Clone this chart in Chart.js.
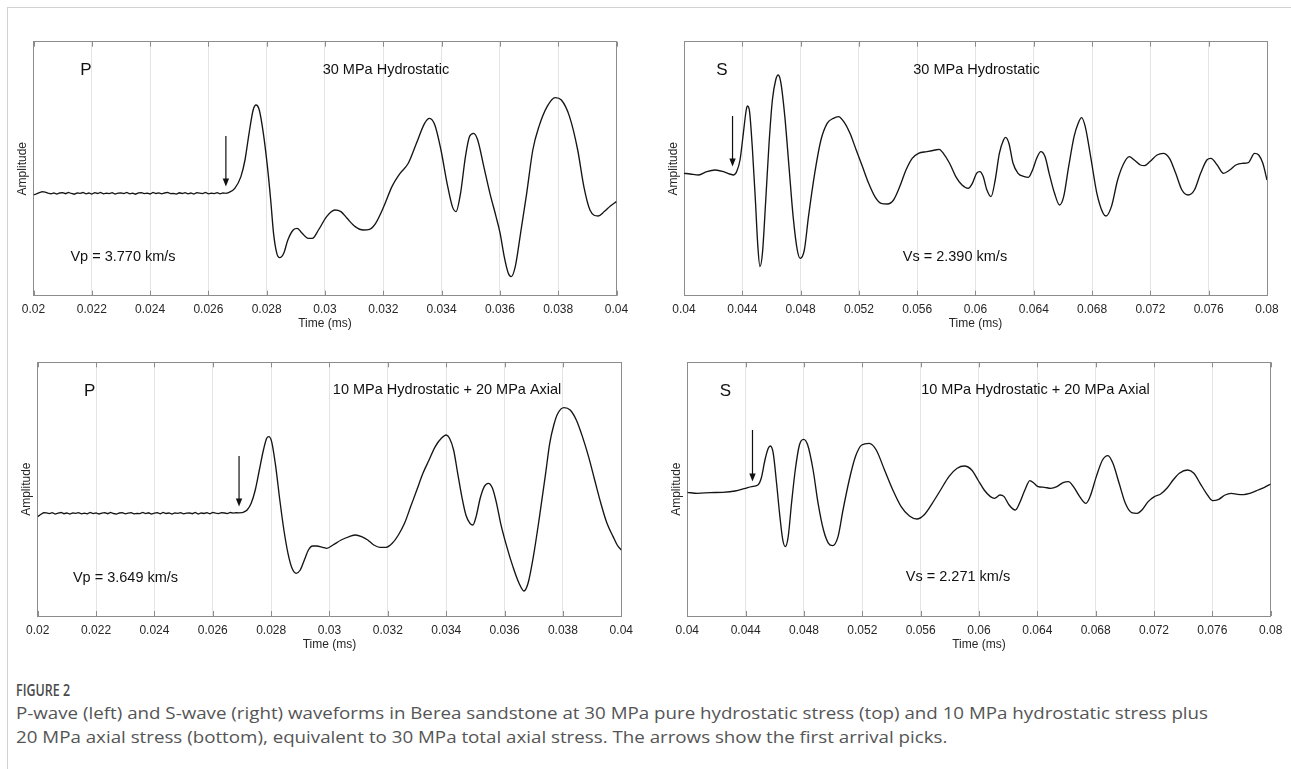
<!DOCTYPE html>
<html><head><meta charset="utf-8">
<script src="https://cdn.jsdelivr.net/npm/chart.js@4.4.0/dist/chart.umd.min.js"></script>
<style>
html,body{margin:0;padding:0;background:#fff;}
#wrap{position:relative;width:1291px;height:769px;overflow:hidden;background:#fff;}
#frame{position:absolute;left:7px;top:7px;width:1290px;height:770px;border-left:1px solid #d2d2d2;border-top:1px solid #d2d2d2;}
canvas{position:absolute;}
.cap{position:absolute;left:16px;font-family:"Open Sans",sans-serif;color:#555;white-space:nowrap;transform-origin:0 50%;line-height:20px;}
</style></head>
<body><div id="wrap"><div id="frame"></div>
<canvas id="c1"></canvas><canvas id="c2"></canvas><canvas id="c3"></canvas><canvas id="c4"></canvas>
<div class="cap" id="figlab" style="top:680px;font-size:17px;font-weight:600;color:#4a4a4a">FIGURE 2</div>
<div class="cap" id="cap1" style="top:703px;font-size:17px">P-wave (left) and S-wave (right) waveforms in Berea sandstone at 30 MPa pure hydrostatic stress (top) and 10 MPa hydrostatic stress plus</div>
<div class="cap" id="cap2" style="top:727px;font-size:17px">20 MPa axial stress (bottom), equivalent to 30 MPa total axial stress. The arrows show the first arrival picks.</div>
</div>
<script>
// ---------------- data (time in ms, amplitude in arbitrary units) ----------------
const P_TICKS = [0.02,0.022,0.024,0.026,0.028,0.03,0.032,0.034,0.036,0.038,0.04];
const S_TICKS = [0.04,0.044,0.048,0.052,0.056,0.06,0.064,0.068,0.072,0.076,0.08];

// P-wave, 30 MPa hydrostatic: pre-arrival noise
const P30_NOISE_TIME = [0.0200,0.0201,0.0202,0.0203,0.0204,0.0205,0.0206,0.0207,0.0208,0.0209,0.0210,0.0211,0.0212,0.0213,0.0214,0.0215,0.0216,0.0217,0.0218,0.0219,0.0220,0.0221,0.0222,0.0223,0.0224,0.0225,0.0226,0.0227,0.0228,0.0229,0.0230,0.0231,0.0232,0.0233,0.0234,0.0235,0.0236,0.0237,0.0238,0.0239,0.0240,0.0241,0.0242,0.0243,0.0244,0.0245,0.0246,0.0247,0.0248,0.0249,0.0250,0.0251,0.0252,0.0253,0.0254,0.0255,0.0256,0.0257,0.0258,0.0259,0.0260,0.0261,0.0262,0.0263,0.0264,0.0265,0.0266];
const P30_NOISE_AMP = [-0.017,-0.006,0.006,0.017,0.012,0.002,-0.006,0.004,-0.008,0.003,0.007,-0.004,0.009,-0.002,-0.009,0.004,0.0,0.008,-0.005,0.003,-0.007,0.006,-0.002,0.009,-0.006,0.002,-0.004,0.007,-0.008,0.001,0.005,-0.003,0.008,-0.006,0.002,-0.009,0.004,0.006,-0.003,0.001,-0.007,0.008,-0.002,0.004,-0.006,0.003,0.009,-0.004,0.0,-0.008,0.005,-0.002,0.007,-0.005,0.003,-0.007,0.006,0.001,-0.004,0.008,-0.006,0.002,-0.003,0.007,-0.005,0.004,0.0];
// P-wave, 30 MPa hydrostatic: signal
const P30_TIME = [0.0266,0.026695,0.026905,0.027115,0.027255,0.027395,0.027535,0.027633,0.027745,0.027885,0.028025,0.028137,0.028235,0.028347,0.028445,0.028585,0.028725,0.028908,0.029048,0.029216,0.029426,0.029566,0.029776,0.030056,0.030336,0.030546,0.030756,0.031036,0.031317,0.031527,0.031737,0.032017,0.032297,0.032577,0.032857,0.033137,0.033417,0.033585,0.033768,0.033978,0.034188,0.03437,0.034496,0.03465,0.034818,0.034958,0.035098,0.035238,0.035448,0.035658,0.035868,0.036008,0.036148,0.036289,0.036387,0.036527,0.036709,0.036919,0.037129,0.037339,0.037619,0.037899,0.038109,0.038389,0.038669,0.03888,0.03909,0.03937,0.03958,0.03979,0.04];
const P30_AMP = [0.0,0.007,0.05,0.167,0.333,0.6,0.833,0.883,0.833,0.6,0.267,-0.067,-0.4,-0.6,-0.643,-0.6,-0.467,-0.367,-0.35,-0.4,-0.45,-0.45,-0.367,-0.233,-0.167,-0.183,-0.25,-0.333,-0.367,-0.36,-0.3,-0.133,0.067,0.2,0.3,0.5,0.7,0.75,0.683,0.433,0.1,-0.133,-0.183,0.0,0.367,0.567,0.6,0.533,0.267,0.0,-0.233,-0.4,-0.633,-0.8,-0.833,-0.733,-0.4,0.0,0.433,0.667,0.867,0.957,0.933,0.767,0.433,0.067,-0.167,-0.227,-0.183,-0.127,-0.083];

// S-wave, 30 MPa hydrostatic
const S30_TIME = [0.04,0.040427,0.040996,0.041566,0.042135,0.042705,0.043132,0.043416,0.043616,0.043843,0.044071,0.04427,0.044356,0.044498,0.044698,0.044897,0.045068,0.04521,0.045381,0.045609,0.045836,0.046064,0.046292,0.046463,0.046633,0.046918,0.047203,0.047488,0.047772,0.047972,0.048256,0.048541,0.048968,0.049395,0.049822,0.050249,0.050591,0.050961,0.051388,0.051815,0.052242,0.052669,0.053096,0.053523,0.05395,0.054377,0.054804,0.055231,0.055658,0.056085,0.056655,0.057224,0.057509,0.057794,0.058221,0.058648,0.059075,0.059502,0.059786,0.060071,0.060299,0.060527,0.060783,0.061068,0.061352,0.061637,0.061922,0.062064,0.062292,0.062577,0.062918,0.063345,0.06363,0.063915,0.064199,0.064484,0.064769,0.065053,0.065423,0.065765,0.06605,0.066391,0.066762,0.067046,0.067274,0.06753,0.0679,0.068327,0.068754,0.068954,0.069324,0.069751,0.070178,0.070548,0.07089,0.071317,0.071601,0.071971,0.072456,0.072883,0.07331,0.073737,0.074164,0.074591,0.075018,0.075445,0.075872,0.076157,0.076584,0.077011,0.077438,0.077865,0.078292,0.078719,0.079146,0.079431,0.079715,0.08];
const S30_AMP = [0.0,-0.007,-0.017,0.017,0.033,0.017,-0.007,-0.017,0.017,0.133,0.4,0.633,0.673,0.617,0.233,-0.267,-0.733,-0.933,-0.8,-0.267,0.3,0.733,0.933,0.983,0.917,0.567,0.067,-0.433,-0.767,-0.85,-0.767,-0.433,0.0,0.333,0.5,0.55,0.567,0.517,0.4,0.233,0.067,-0.1,-0.233,-0.3,-0.307,-0.267,-0.133,0.033,0.15,0.2,0.217,0.233,0.24,0.2,0.1,-0.033,-0.117,-0.15,-0.1,0.0,0.017,-0.033,-0.167,-0.233,-0.067,0.2,0.333,0.36,0.3,0.1,0.0,-0.033,-0.04,0.033,0.15,0.217,0.167,0.0,-0.2,-0.317,-0.233,0.067,0.367,0.5,0.557,0.467,0.167,-0.2,-0.4,-0.427,-0.333,-0.067,0.1,0.167,0.133,0.083,0.077,0.117,0.183,0.2,0.15,0.0,-0.167,-0.217,-0.167,0.0,0.133,0.15,0.083,0.0,0.033,0.083,0.1,0.107,0.2,0.183,0.1,-0.067];

// P-wave, 10 MPa hydrostatic + 20 MPa axial: pre-arrival noise
const P10_NOISE_TIME = [0.0200,0.0201,0.0202,0.0203,0.0204,0.0205,0.0206,0.0207,0.0208,0.0209,0.0210,0.0211,0.0212,0.0213,0.0214,0.0215,0.0216,0.0217,0.0218,0.0219,0.0220,0.0221,0.0222,0.0223,0.0224,0.0225,0.0226,0.0227,0.0228,0.0229,0.0230,0.0231,0.0232,0.0233,0.0234,0.0235,0.0236,0.0237,0.0238,0.0239,0.0240,0.0241,0.0242,0.0243,0.0244,0.0245,0.0246,0.0247,0.0248,0.0249,0.0250,0.0251,0.0252,0.0253,0.0254,0.0255,0.0256,0.0257,0.0258,0.0259,0.0260,0.0261,0.0262,0.0263,0.0264,0.0265,0.0266,0.0267,0.0268,0.0269,0.0270];
const P10_NOISE_AMP = [-0.033,-0.012,0.007,0.004,-0.003,0.006,-0.007,0.002,0.008,-0.004,0.003,-0.008,0.005,0.0,0.007,-0.005,0.002,-0.006,0.009,-0.003,0.004,-0.007,0.001,0.006,-0.004,0.008,-0.002,-0.008,0.003,0.006,-0.005,0.002,0.007,-0.006,0.0,-0.004,0.008,-0.003,0.005,-0.007,0.002,0.006,-0.005,0.009,-0.002,0.003,-0.008,0.004,-0.001,0.007,-0.006,0.002,0.005,-0.004,0.008,-0.007,0.003,-0.002,0.006,-0.005,0.009,0.001,-0.004,0.007,0.003,-0.003,0.008,0.002,0.006,0.004,0.007];
// P-wave, 10 MPa hydrostatic + 20 MPa axial: signal
const P10_TIME = [0.0270,0.027036,0.027176,0.027316,0.027456,0.027596,0.027736,0.027848,0.027918,0.028017,0.028157,0.028297,0.028437,0.028577,0.028717,0.028857,0.028998,0.029138,0.029278,0.029418,0.029558,0.029768,0.029909,0.030119,0.030399,0.030679,0.03089,0.0311,0.03131,0.03152,0.03173,0.03194,0.032151,0.032361,0.032571,0.032782,0.032992,0.033202,0.033412,0.033623,0.033833,0.034001,0.034113,0.034253,0.034393,0.034534,0.034674,0.034814,0.034912,0.035024,0.035164,0.035304,0.035444,0.035585,0.035725,0.035865,0.036075,0.036285,0.036496,0.036664,0.036804,0.036986,0.037197,0.037407,0.037547,0.037687,0.037827,0.038037,0.038248,0.038458,0.038668,0.038878,0.039088,0.039299,0.039509,0.039719,0.039859,0.04];
const P10_AMP = [0.007,0.009,0.033,0.1,0.233,0.433,0.633,0.75,0.767,0.717,0.467,0.133,-0.167,-0.4,-0.55,-0.6,-0.567,-0.467,-0.367,-0.327,-0.327,-0.34,-0.35,-0.317,-0.267,-0.233,-0.217,-0.233,-0.267,-0.317,-0.34,-0.34,-0.3,-0.217,-0.1,0.067,0.233,0.4,0.533,0.667,0.75,0.783,0.75,0.633,0.4,0.167,-0.017,-0.1,-0.117,-0.033,0.15,0.267,0.3,0.25,0.1,-0.1,-0.333,-0.533,-0.7,-0.777,-0.7,-0.433,-0.033,0.4,0.7,0.883,1.0,1.057,1.033,0.933,0.767,0.567,0.333,0.1,-0.1,-0.233,-0.317,-0.367];

// S-wave, 10 MPa hydrostatic + 20 MPa axial
const S10_TIME = [0.04,0.040712,0.041566,0.04242,0.043274,0.043986,0.044413,0.04484,0.045068,0.045324,0.045552,0.045694,0.045893,0.046121,0.046349,0.046548,0.046719,0.046918,0.047146,0.047402,0.047687,0.047972,0.048256,0.048626,0.048968,0.049338,0.04968,0.049964,0.050335,0.050676,0.051103,0.05153,0.051957,0.05247,0.052954,0.053523,0.054093,0.054662,0.055231,0.055744,0.056228,0.056797,0.057366,0.057936,0.058505,0.058989,0.059502,0.059929,0.060356,0.060783,0.061068,0.061438,0.061722,0.062064,0.062491,0.062776,0.063146,0.063488,0.063772,0.064057,0.064484,0.064911,0.065338,0.065765,0.066135,0.066476,0.066903,0.06733,0.067615,0.068042,0.068469,0.068839,0.069181,0.069608,0.070035,0.070462,0.070832,0.071174,0.071601,0.072028,0.072455,0.072883,0.07331,0.073737,0.074306,0.074733,0.07516,0.075587,0.076014,0.076441,0.076868,0.077295,0.077722,0.078149,0.078576,0.079146,0.079573,0.08];
const S10_AMP = [0.01,0.0,0.007,0.01,0.023,0.05,0.067,0.083,0.15,0.333,0.45,0.473,0.4,0.1,-0.233,-0.467,-0.533,-0.433,-0.1,0.233,0.483,0.54,0.483,0.233,-0.1,-0.367,-0.5,-0.523,-0.433,-0.167,0.133,0.367,0.483,0.5,0.433,0.233,0.033,-0.133,-0.227,-0.257,-0.217,-0.1,0.033,0.167,0.25,0.273,0.233,0.133,0.033,-0.033,-0.05,-0.017,-0.033,-0.117,-0.167,-0.1,0.033,0.127,0.1,0.067,0.06,0.05,0.067,0.107,0.117,0.067,-0.033,-0.1,-0.033,0.167,0.333,0.377,0.3,0.1,-0.1,-0.193,-0.2,-0.167,-0.083,-0.033,-0.007,0.05,0.133,0.2,0.233,0.2,0.1,0.0,-0.073,-0.06,-0.017,0.0,-0.01,-0.013,0.0,0.033,0.06,0.093];

// first-arrival picks: time, arrow tail amplitude, arrow tip amplitude
const PICK_TIME = [0.0266, 0.04333, 0.0269, 0.04447];
const PICK_TAIL = [0.573, 0.573, 0.573, 0.633];
const PICK_TIP  = [0.067, 0.067, 0.067, 0.117];

const PANEL_LETTER = ['P','S','P','S'];
const PANEL_TITLE = ['30 MPa Hydrostatic','30 MPa Hydrostatic','10 MPa Hydrostatic + 20 MPa Axial','10 MPa Hydrostatic + 20 MPa Axial'];
const VELOCITY_TEXT = ['Vp = 3.770 km/s','Vs = 2.390 km/s','Vp = 3.649 km/s','Vs = 2.271 km/s'];

// ---------------- layout ----------------
const FONT = '"Liberation Sans", Arial, Helvetica, sans-serif';
const YW = 18;
const panels = [
  {id:'c1', noiseT:P30_NOISE_TIME, noiseA:P30_NOISE_AMP, time:P30_TIME, amp:P30_AMP, ticks:P_TICKS, ymin:-1.024, ymax:1.516,
   plot:{l:33.5,t:41.7,r:616.5,b:295.7}, cv:{x:0,y:30,w:645,h:310}, hx:34.8,
   letterPos:[0.0218,1.233], titlePos:[0.03209,1.233], velPos:[0.02307,-0.637]},
  {id:'c2', noiseT:null, noiseA:null, time:S30_TIME, amp:S30_AMP, ticks:S_TICKS, ymin:-1.224, ymax:1.316,
   plot:{l:684,t:41.7,r:1267,b:295.7}, cv:{x:650,y:30,w:641,h:310}, hx:34.8,
   letterPos:[0.04261,1.033], titlePos:[0.06007,1.033], velPos:[0.05859,-0.837]},
  {id:'c3', noiseT:P10_NOISE_TIME, noiseA:P10_NOISE_AMP, time:P10_TIME, amp:P10_AMP, ticks:P_TICKS, ymin:-1.027, ymax:1.51,
   plot:{l:37.7,t:362.3,r:621.3,b:616}, cv:{x:0,y:345,w:650,h:315}, hx:36.2,
   letterPos:[0.02178,1.216], titlePos:[0.03403,1.233], velPos:[0.02301,-0.644]},
  {id:'c4', noiseT:null, noiseA:null, time:S10_TIME, amp:S10_AMP, ticks:S_TICKS, ymin:-1.227, ymax:1.31,
   plot:{l:687.3,t:362.3,r:1270.7,b:616}, cv:{x:655,y:345,w:636,h:315}, hx:36.2,
   letterPos:[0.04262,1.016], titlePos:[0.06387,1.033], velPos:[0.05856,-0.84]}
];

const fmt = v => String(parseFloat(Number(v).toFixed(4)));

const decorPlugin = {
  id:'decor',
  afterDatasetsDraw(chart, args, opts) {
    const {ctx, chartArea:a, scales:{x, y}} = chart;
    const i = opts.index;
    ctx.save();
    // inward tick marks on top and bottom edges
    ctx.strokeStyle = '#8c8c8c'; ctx.lineWidth = 1;
    x.ticks.forEach(t => {
      const px = Math.round(x.getPixelForValue(t.value)) + 0.5;
      ctx.beginPath(); ctx.moveTo(px, a.bottom); ctx.lineTo(px, a.bottom - 5);
      ctx.moveTo(px, a.top); ctx.lineTo(px, a.top + 5); ctx.stroke();
    });
    // arrow (first arrival pick)
    const ax = x.getPixelForValue(PICK_TIME[i]);
    const ay0 = y.getPixelForValue(PICK_TAIL[i]);
    const ay1 = y.getPixelForValue(PICK_TIP[i]);
    ctx.strokeStyle = '#111'; ctx.fillStyle = '#111'; ctx.lineWidth = 1.2;
    ctx.beginPath(); ctx.moveTo(ax, ay0); ctx.lineTo(ax, ay1 - 6); ctx.stroke();
    ctx.beginPath(); ctx.moveTo(ax - 3.2, ay1 - 8); ctx.lineTo(ax + 3.2, ay1 - 8); ctx.lineTo(ax, ay1); ctx.closePath(); ctx.fill();
    // texts
    const p = opts.panel;
    ctx.fillStyle = '#111'; ctx.textBaseline = 'middle'; ctx.textAlign = 'center';
    ctx.font = '17px ' + FONT;
    ctx.fillText(PANEL_LETTER[i], x.getPixelForValue(p.letterPos[0]), y.getPixelForValue(p.letterPos[1]));
    ctx.font = '14.5px ' + FONT;
    ctx.fillText(PANEL_TITLE[i], x.getPixelForValue(p.titlePos[0]), y.getPixelForValue(p.titlePos[1]));
    ctx.fillText(VELOCITY_TEXT[i], x.getPixelForValue(p.velPos[0]), y.getPixelForValue(p.velPos[1]));
    ctx.restore();
  }
};

panels.forEach((p, i) => {
  const cv = document.getElementById(p.id);
  cv.width = p.cv.w; cv.height = p.cv.h;
  cv.style.left = p.cv.x + 'px'; cv.style.top = p.cv.y + 'px';
  cv.style.width = p.cv.w + 'px'; cv.style.height = p.cv.h + 'px';
  const pad = {
    left: p.plot.l - p.cv.x - YW,
    top: p.plot.t - p.cv.y,
    right: p.cv.x + p.cv.w - p.plot.r,
    bottom: p.cv.y + p.cv.h - p.plot.b - p.hx
  };
  const xmin = p.ticks[0], xmax = p.ticks[p.ticks.length - 1];
  const setTicks = s => { s.ticks = p.ticks.map(v => ({value: v})); };
  const datasets = [];
  if (p.noiseT) {
    datasets.push({
      data: p.noiseT.map((t, k) => ({x: t, y: p.noiseA[k]})),
      borderColor: '#151515', borderWidth: 1.3, pointRadius: 0, tension: 0, fill: false
    });
  }
  datasets.push({
    data: p.time.map((t, k) => ({x: t, y: p.amp[k]})),
    borderColor: '#151515', borderWidth: 1.35, pointRadius: 0,
    cubicInterpolationMode: 'monotone', fill: false
  });
  new Chart(cv, {
    type: 'line',
    data: { datasets },
    options: {
      responsive: false, animation: false, devicePixelRatio: 1,
      events: [],
      layout: { padding: pad, autoPadding: false },
      plugins: { legend: {display: false}, tooltip: {enabled: false}, decor: {index: i, panel: p} },
      scales: {
        x: { type: 'linear', position: 'bottom', min: xmin, max: xmax,
             afterBuildTicks: setTicks,
             afterFit: s => { s.height = p.hx; s.paddingLeft = 0; s.paddingRight = 0; },
             grid: { color: '#e4e4e4', lineWidth: 1, drawTicks: false },
             border: { color: '#8c8c8c', width: 1 },
             ticks: { padding: 7, color: '#262626', autoSkip: false, maxRotation: 0,
                      font: {family: FONT, size: 12}, callback: v => fmt(v) },
             title: { display: true, text: 'Time (ms)', padding: 0, color: '#262626',
                      font: {family: FONT, size: 12} } },
        x2: { type: 'linear', position: 'top', min: xmin, max: xmax,
              afterFit: s => { s.height = 0; s.paddingLeft = 0; s.paddingRight = 0; },
              grid: { display: false }, ticks: { display: false },
              border: { color: '#8c8c8c', width: 1 } },
        y: { type: 'linear', position: 'left', min: p.ymin, max: p.ymax,
             afterFit: s => { s.width = YW; s.paddingTop = 0; s.paddingBottom = 0; },
             grid: { display: false }, ticks: { display: false },
             border: { color: '#8c8c8c', width: 1 },
             title: { display: true, text: 'Amplitude', padding: 0, color: '#262626',
                      font: {family: FONT, size: 12} } },
        y2: { type: 'linear', position: 'right', min: p.ymin, max: p.ymax,
              afterFit: s => { s.width = 0; s.paddingTop = 0; s.paddingBottom = 0; },
              grid: { display: false }, ticks: { display: false },
              border: { color: '#8c8c8c', width: 1 } }
      }
    },
    plugins: [decorPlugin]
  });
});

// caption width fitting
(function(){
  const c1 = document.getElementById('cap1'), c2 = document.getElementById('cap2'), f = document.getElementById('figlab');
  const k = 1192 / c1.getBoundingClientRect().width;
  [c1, c2].forEach(e => e.style.transform = 'scaleX(' + k + ')');
  const kf = 54 / f.getBoundingClientRect().width;
  f.style.transform = 'scaleX(' + kf + ')';
})();
</script>
</body></html>
